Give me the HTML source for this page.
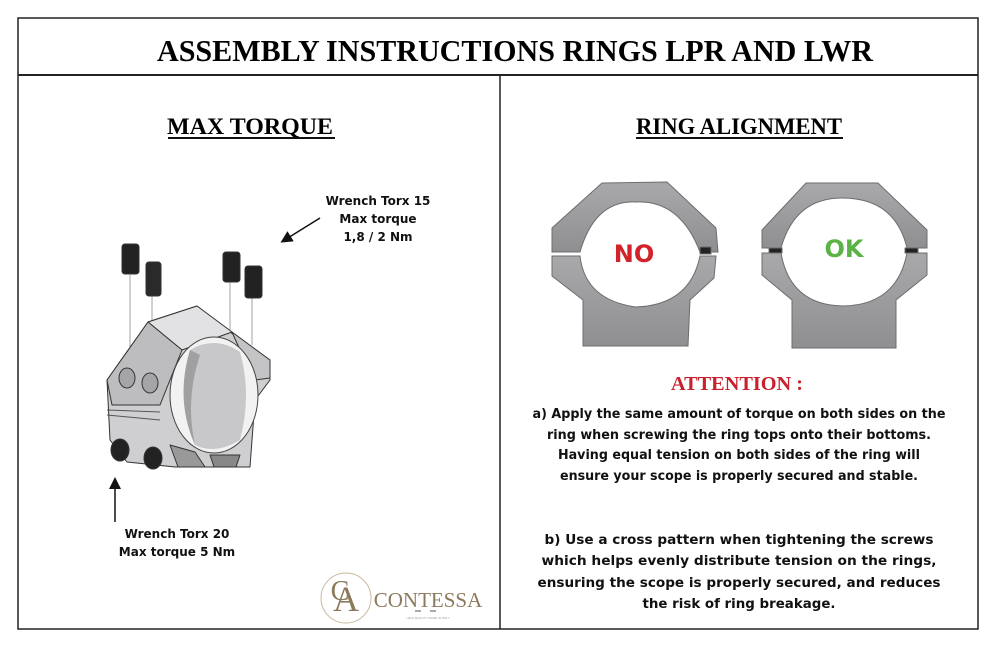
<!DOCTYPE html>
<html><head><meta charset="utf-8"><style>
html,body{margin:0;padding:0;background:#fff;width:1000px;height:653px;overflow:hidden}
svg{display:block}
.t{font-family:"Liberation Serif",serif;font-weight:bold}
.s{font-family:"DejaVu Sans","Liberation Sans",sans-serif;font-weight:bold}
</style></head><body>
<svg width="1000" height="653" viewBox="0 0 1000 653" xmlns="http://www.w3.org/2000/svg">
<defs>
<linearGradient id="g" x1="0" y1="0" x2="0" y2="1"><stop offset="0" stop-color="#a9a9ab"/><stop offset="1" stop-color="#8f8f92"/></linearGradient>
<marker id="ah" markerWidth="8" markerHeight="8" refX="6" refY="4" orient="auto"><path d="M0,0 L8,4 L0,8 z" fill="#111"/></marker>
</defs>
<rect x="18" y="18" width="960" height="611" fill="none" stroke="#222" stroke-width="1.5"/>
<line x1="18" y1="75" x2="978" y2="75" stroke="#222" stroke-width="2"/>
<line x1="500" y1="75" x2="500" y2="629" stroke="#222" stroke-width="1.5"/>
<text class="t" x="515" y="61" font-size="31" text-anchor="middle" textLength="716" lengthAdjust="spacingAndGlyphs">ASSEMBLY INSTRUCTIONS RINGS LPR AND LWR</text>
<text class="t" x="250" y="134" font-size="23" text-anchor="middle" textLength="166" lengthAdjust="spacingAndGlyphs">MAX TORQUE </text>
<line x1="168" y1="138" x2="335" y2="138" stroke="#111" stroke-width="2"/>
<text class="t" x="739" y="134" font-size="23" text-anchor="middle" textLength="206" lengthAdjust="spacingAndGlyphs">RING ALIGNMENT</text>
<line x1="636" y1="138" x2="843" y2="138" stroke="#111" stroke-width="2"/>

<g class="s" font-size="12" text-anchor="middle" fill="#111">
<text x="378" y="205">Wrench Torx 15</text>
<text x="378" y="223">Max torque</text>
<text x="378" y="241">1,8 / 2 Nm</text>
<text x="177" y="538">Wrench Torx 20</text>
<text x="177" y="556">Max torque 5 Nm</text>
</g>
<line x1="320" y1="218" x2="283" y2="241" stroke="#111" stroke-width="1.5" marker-end="url(#ah)"/>
<line x1="115" y1="522" x2="115" y2="480" stroke="#111" stroke-width="1.5" marker-end="url(#ah)"/>

<!-- ring drawing left -->
<g stroke="#333" stroke-width="1" stroke-linejoin="round">
<line x1="130" y1="275" x2="130" y2="380" stroke="#666" stroke-width="0.6"/>
<line x1="152" y1="295" x2="152" y2="385" stroke="#666" stroke-width="0.6"/>
<line x1="230" y1="282" x2="230" y2="335" stroke="#666" stroke-width="0.6"/>
<line x1="252" y1="298" x2="252" y2="345" stroke="#666" stroke-width="0.6"/>
<!-- body -->
<path d="M148,322 L197,306 L230,332 L270,360 L270,380 L255,400 L250,467 L175,467 L127,462 L110,440 L107,380 Z" fill="#cfcfd1"/>
<!-- top face -->
<path d="M148,322 L197,306 L232,332 L182,350 Z" fill="#e2e2e4"/>
<!-- left cap face -->
<path d="M107,380 L148,322 L182,350 L160,405 L112,405 Z" fill="#bdbdbf"/>
<line x1="107" y1="410" x2="160" y2="412" stroke="#555"/>
<line x1="107" y1="415" x2="160" y2="420" stroke="#555"/>
<!-- right cap -->
<path d="M232,332 L270,360 L270,378 L255,380 L240,350 Z" fill="#c4c4c6"/>
<!-- bore -->
<ellipse cx="214" cy="395" rx="44" ry="58" fill="#f2f2f2" stroke="#444"/>
<path d="M190,350 Q215,335 240,352 Q252,395 240,440 Q215,455 195,445 Q175,400 190,350 Z" fill="#c8c8ca" stroke="none"/>
<path d="M190,350 Q175,400 195,445 Q185,400 200,355 Z" fill="#a0a0a2" stroke="none"/>
<ellipse cx="127" cy="378" rx="8" ry="10" fill="#a5a5a7"/>
<ellipse cx="150" cy="383" rx="8" ry="10" fill="#a5a5a7"/>
<path d="M170,445 L195,452 L205,467 L178,467 Z" fill="#999"/>
<path d="M210,455 L240,455 L236,467 L214,467 Z" fill="#888"/>
<ellipse cx="120" cy="450" rx="9" ry="11" fill="#222"/>
<ellipse cx="153" cy="458" rx="9" ry="11" fill="#222"/>
<rect x="122" y="244" width="17" height="30" rx="3" fill="#222"/>
<rect x="146" y="262" width="15" height="34" rx="3" fill="#2a2a2a"/>
<rect x="223" y="252" width="17" height="30" rx="3" fill="#222"/>
<rect x="245" y="266" width="17" height="32" rx="3" fill="#222"/>
</g>

<!-- NO ring -->
<g stroke="#6d6d70" stroke-width="1">
<path d="M602,183 L667,182 L716,228 L718,252 L700,252 Q680,200 636,202 Q595,200 580,252 L552,252 L552,228 Z" fill="url(#g)"/>
<path d="M552,256 L580,256 Q585,300 636,307 Q690,305 700,256 L716,256 L714,278 L690,300 L688,346 L583,346 L583,300 L552,276 Z" fill="url(#g)"/>
<rect x="700" y="247" width="11" height="7" fill="#222"/>
</g>
<text class="s" x="634" y="262" font-size="24" fill="#d2232a" text-anchor="middle">NO</text>
<g stroke="#6d6d70" stroke-width="1">
<path d="M806,183 L878,183 L927,230 L927,248 L907,248 Q895,198 842,198 Q795,198 781,248 L762,248 L762,230 Z" fill="url(#g)"/>
<path d="M762,253 L781,253 Q790,305 843,306 Q897,305 907,253 L927,253 L927,275 L896,300 L896,348 L792,348 L792,300 L762,275 Z" fill="url(#g)"/>
<rect x="769" y="248" width="13" height="5" fill="#222"/>
<rect x="905" y="248" width="13" height="5" fill="#222"/>
</g>
<text class="s" x="844" y="257" font-size="24" fill="#5bb346" text-anchor="middle">OK</text>

<text class="t" x="737" y="390" font-size="20" fill="#c9202e" text-anchor="middle" textLength="132" lengthAdjust="spacingAndGlyphs">ATTENTION :</text>
<g class="s" font-size="13.5" fill="#111" text-anchor="middle">
<text x="739" y="418" textLength="413" lengthAdjust="spacingAndGlyphs">a) Apply the same amount of torque on both sides on the</text>
<text x="739" y="439" textLength="384" lengthAdjust="spacingAndGlyphs">ring when screwing the ring tops onto their bottoms.</text>
<text x="739" y="459" textLength="362" lengthAdjust="spacingAndGlyphs">Having equal tension on both sides of the ring will</text>
<text x="739" y="480" textLength="358" lengthAdjust="spacingAndGlyphs">ensure your scope is properly secured and stable.</text>
<text x="739" y="544" textLength="389" lengthAdjust="spacingAndGlyphs">b) Use a cross pattern when tightening the screws</text>
<text x="739" y="565" textLength="395" lengthAdjust="spacingAndGlyphs">which helps evenly distribute tension on the rings,</text>
<text x="739" y="587" textLength="403" lengthAdjust="spacingAndGlyphs">ensuring the scope is properly secured, and reduces</text>
<text x="739" y="608" textLength="193" lengthAdjust="spacingAndGlyphs">the risk of ring breakage.</text>
</g>

<circle cx="346" cy="598" r="25" fill="none" stroke="#c9b99d" stroke-width="1"/>
<text x="346" y="611" font-family="Liberation Serif,serif" font-size="36" fill="#8c7a5c" text-anchor="middle">A</text>
<text x="340" y="600" font-family="Liberation Serif,serif" font-size="28" fill="#8c7a5c" text-anchor="middle">C</text>
<text x="428" y="607" font-family="Liberation Serif,serif" font-size="21" fill="#8c7a5c" text-anchor="middle">CONTESSA</text>
<line x1="415" y1="611" x2="421" y2="611" stroke="#555"/><line x1="430" y1="611" x2="436" y2="611" stroke="#555"/>
<text x="428" y="619" font-family="Liberation Sans,sans-serif" font-size="3" fill="#999" text-anchor="middle">HIGH QUALITY MADE IN ITALY</text>
</svg>
</body></html>
